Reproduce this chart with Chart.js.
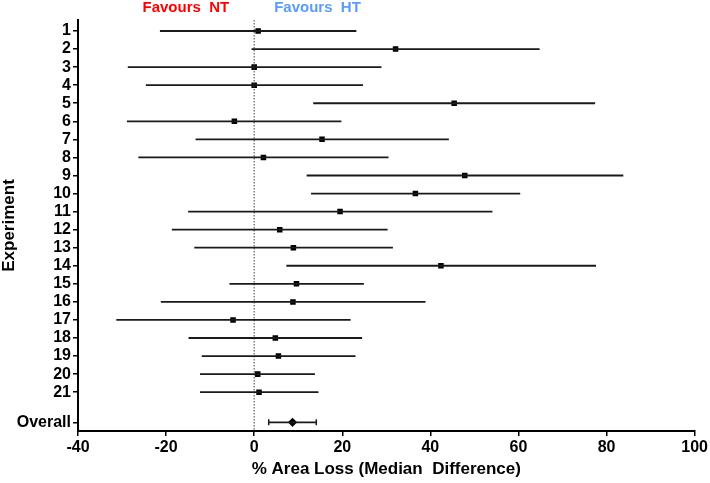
<!DOCTYPE html>
<html>
<head>
<meta charset="utf-8">
<script src="https://cdn.jsdelivr.net/npm/chart.js@4/dist/chart.umd.min.js"></script>
<style>
html,body{margin:0;padding:0;background:#fff;}
#wrap{width:710px;height:483px;}
</style>
</head>
<body>
<div id="wrap"><canvas id="c" width="710" height="483"></canvas></div>
<script>
// ---- data ----
const experiments = ['1','2','3','4','5','6','7','8','9','10','11','12','13','14','15','16','17','18','19','20','21'];
const medians = [0.9, 32.1, 0.0, 0.0, 45.4, -4.5, 15.4, 2.1, 47.8, 36.6, 19.5, 5.8, 8.9, 42.4, 9.6, 8.8, -4.8, 4.8, 5.5, 0.8, 1.1];
const lower   = [-21.4, -0.6, -28.7, -24.6, 13.4, -28.9, -13.3, -26.3, 11.9, 12.9, -15.0, -18.7, -13.6, 7.3, -5.6, -21.2, -31.3, -14.9, -11.9, -12.3, -12.3];
const upper   = [23.2, 64.8, 28.9, 24.7, 77.4, 19.8, 44.2, 30.5, 83.8, 60.4, 54.1, 30.3, 31.5, 77.6, 24.9, 38.9, 21.9, 24.5, 23.0, 13.8, 14.6];
const overallLabel = 'Overall';
const overallMedian = 8.7;
const overallLower = 3.3;
const overallUpper = 14.1;
const xTicks = [-40, -20, 0, 20, 40, 60, 80, 100];
const leftText = 'Favours  NT';
const rightText = 'Favours  HT';

// ---- layout helpers ----
const OVERALL_GAP = 1.67;
const overallPos = experiments.length + OVERALL_GAP;
const rowPos = experiments.map((_, i) => i + 1);
const yMin = 0.39, yMax = 23.15;

const FONT = "'Liberation Sans', Arial, sans-serif";
const LINE_COLOR = '#1a1a1a';

const datasets = [];
experiments.forEach((e, i) => {
  datasets.push({
    type: 'scatter', showLine: true,
    data: [{x: lower[i], y: rowPos[i]}, {x: upper[i], y: rowPos[i]}],
    borderColor: LINE_COLOR, borderWidth: 1.8, pointRadius: 0
  });
});
datasets.push({
  type: 'scatter', showLine: true,
  data: [{x: overallLower, y: overallPos}, {x: overallUpper, y: overallPos}],
  borderColor: LINE_COLOR, borderWidth: 1.8, pointRadius: 0
});
datasets.push({
  type: 'scatter',
  data: [{x: overallLower, y: overallPos}, {x: overallUpper, y: overallPos}],
  pointStyle: 'line', rotation: 90, pointRadius: 3,
  borderColor: LINE_COLOR, borderWidth: 1.5, backgroundColor: LINE_COLOR
});
datasets.push({
  type: 'scatter', showLine: true,
  data: [{x: 0, y: yMin}, {x: 0, y: yMax}],
  borderColor: '#444', borderWidth: 1, borderDash: [1.5, 1.5], pointRadius: 0
});
datasets.push({
  type: 'scatter',
  data: medians.map((m, i) => ({x: m, y: rowPos[i]})),
  pointStyle: 'rect', pointRadius: 3.9,
  backgroundColor: '#000', borderColor: '#000', borderWidth: 0
});
datasets.push({
  type: 'scatter',
  data: [{x: overallMedian, y: overallPos}],
  pointStyle: 'rectRot', pointRadius: 4.6,
  backgroundColor: '#000', borderColor: '#000', borderWidth: 0
});

const headerPlugin = {
  id: 'header',
  afterDraw(chart) {
    const ctx = chart.ctx;
    const xs = chart.scales.x;
    const zero = xs.getPixelForValue(0);
    ctx.save();
    ctx.font = 'bold 15px ' + FONT;
    ctx.textBaseline = 'middle';
    ctx.fillStyle = '#ff0000';
    ctx.textAlign = 'right';
    ctx.fillText(leftText, zero - 25, 8);
    ctx.fillStyle = '#5a9cf8';
    ctx.textAlign = 'left';
    ctx.fillText(rightText, zero + 20, 8);
    ctx.restore();
  }
};

const yLabelMap = {};
rowPos.forEach((p, i) => yLabelMap[p] = experiments[i]);
yLabelMap[overallPos] = overallLabel;

new Chart(document.getElementById('c'), {
  type: 'scatter',
  data: { datasets },
  options: {
    responsive: false,
    animation: false,
    events: [],
    layout: { padding: { top: 20, right: 15, left: 0, bottom: 0 } },
    plugins: { legend: { display: false }, tooltip: { enabled: false } },
    scales: {
      x: {
        type: 'linear', min: -40, max: 100,
        afterBuildTicks: s => { s.ticks = xTicks.map(v => ({value: v})); },
        afterFit: s => { s.height = 52; },
        grid: { drawOnChartArea: false, drawTicks: true, tickLength: 5, color: '#000', lineWidth: 1.5 },
        border: { display: true, color: '#000', width: 2 },
        ticks: { color: '#000', padding: 2, font: { family: FONT, size: 16, weight: 'bold' }, maxRotation: 0 },
        title: { display: true, text: '% Area Loss (Median  Difference)', color: '#000',
                 font: { family: FONT, size: 17, weight: 'bold' }, padding: { top: 0, bottom: 3 } }
      },
      y: {
        type: 'linear', min: yMin, max: yMax, reverse: true,
        afterBuildTicks: s => { s.ticks = rowPos.concat([overallPos]).map(v => ({value: v})); },
        afterFit: s => { s.width = 78; },
        grid: { drawOnChartArea: false, drawTicks: true, tickLength: 5, color: '#000', lineWidth: 1.5 },
        border: { display: true, color: '#000', width: 2 },
        ticks: { color: '#000', padding: 2, autoSkip: false,
                 font: { family: FONT, size: 16, weight: 'bold' },
                 callback: v => yLabelMap[v] !== undefined ? yLabelMap[v] : '' },
        title: { display: true, text: 'Experiment', color: '#000',
                 font: { family: FONT, size: 17, weight: 'bold' }, padding: { top: -1, bottom: 0 } }
      }
    }
  },
  plugins: [headerPlugin]
});
</script>
</body>
</html>
